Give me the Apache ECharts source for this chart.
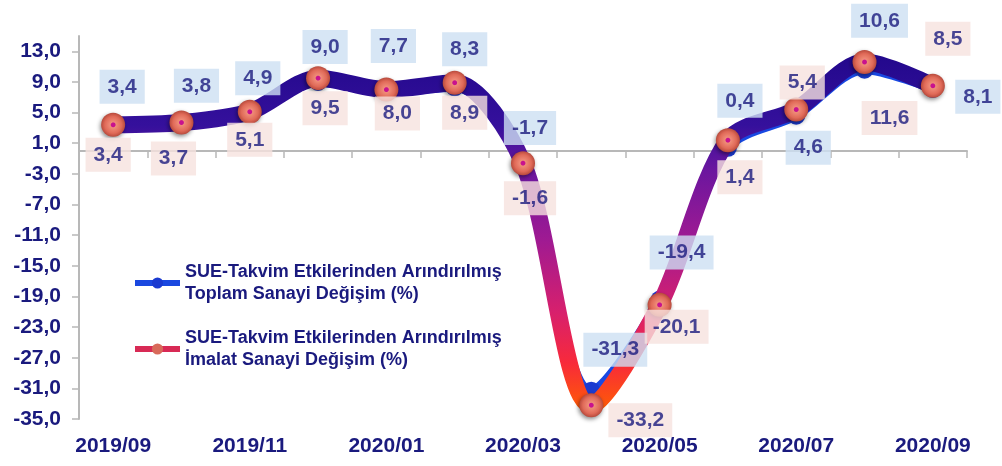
<!DOCTYPE html>
<html><head><meta charset="utf-8">
<script src="https://cdn.jsdelivr.net/npm/echarts@6/dist/echarts.min.js"></script>
<style>html,body{margin:0;padding:0;background:#fff}#c{width:1002px;height:466px}</style>
</head><body><div id="c"></div>
<script>
var categories = ['2019/09','2019/10','2019/11','2019/12','2020/01','2020/02','2020/03','2020/04','2020/05','2020/06','2020/07','2020/08','2020/09'];
var toplam = [3.4, 3.8, 4.9, 9.0, 7.7, 8.3, -1.7, -31.3, -19.4, 0.4, 4.6, 10.6, 8.1];
var imalat = [3.4, 3.7, 5.1, 9.5, 8.0, 8.9, -1.6, -33.2, -20.1, 1.4, 5.4, 11.6, 8.5];
var yTicks = [-35, -31, -27, -23, -19, -15, -11, -7, -3, 1, 5, 9, 13];
var seriesNames = ['SUE-Takvim Etkilerinden Arındırılmış\nToplam Sanayi Değişim (%)', 'SUE-Takvim Etkilerinden Arındırılmış\nİmalat Sanayi Değişim (%)'];

// label placement (layout only)
var toplamLabelOffset = [[9,-38],[15,-36],[8,-35],[7,-35],[7,-46],[10,-38],[7,-36],[24,-41],[22,-47],[12,-47],[12,32],[15,-49],[45,8]];
var imalatLabelOffset = [[-5,30],[-8,36],[0,28],[7,30],[11,24],[10,30],[7,35],[49,15],[17,22],[12,37],[6,-27],[25,56],[15,-47]];

var NAVY = '#1a1a7e';
var FONT = 'Liberation Sans, Arial, sans-serif';
function fmt(v){ return v.toFixed(1).replace('.', ','); }
function mkLabelData(vals, offs, bg){
  return vals.map(function(v,i){
    return {value: v, label: {offset: offs[i], backgroundColor: bg}};
  });
}
var labelBase = {show:true, position:'inside', color:NAVY, fontFamily:FONT, fontWeight:'bold', fontSize:21, padding:[7,8,6,8], formatter:function(p){return fmt(p.value);}};

var chart = echarts.init(document.getElementById('c'), null, {renderer:'canvas'});
chart.setOption({
  animation:false,
  backgroundColor:'#fff',
  grid:{left:79, right:35, top:36, bottom:47},
  legend:{
    orient:'vertical', left:127, top:245, itemGap:0, itemWidth:45, itemHeight:14,
    textStyle:{color:NAVY, fontFamily:FONT, fontWeight:'bold', fontSize:18, lineHeight:22, padding:[22,0,0,0]},
    data:[
      {name:seriesNames[0], lineStyle:{width:6, color:'#1a48e0'}, itemStyle:{color:'#1a3ad0'}},
      {name:seriesNames[1], lineStyle:{width:6, color:'#d82a55'}, itemStyle:{color:'#d86a5a'}}
    ]
  },
  xAxis:[
    {type:'category', data:categories, boundaryGap:true, position:'bottom',
     axisLine:{onZero:true, lineStyle:{color:'#b8b8b8', width:2}},
     axisTick:{show:true, interval:0, length:7, lineStyle:{color:'#b8b8b8', width:1.5}},
     axisLabel:{show:false}},
    {type:'category', data:categories, boundaryGap:true, position:'bottom',
     axisLine:{show:false}, axisTick:{show:false},
     axisLabel:{show:true, interval:1, margin:17, color:NAVY, fontFamily:FONT, fontWeight:'bold', fontSize:21}}
  ],
  yAxis:{
    type:'value', min:-35, max:15, interval:4,
    splitLine:{show:false},
    axisLine:{show:true, lineStyle:{color:'#b8b8b8', width:2}},
    axisTick:{show:true, length:7, customValues:yTicks, lineStyle:{color:'#b8b8b8', width:1.5}},
    axisLabel:{show:true, customValues:yTicks, margin:18, color:NAVY, fontFamily:FONT, fontWeight:'bold', fontSize:21, formatter:function(v){return fmt(v);}}
  },
  series:[
    {name:seriesNames[0], type:'line', xAxisIndex:0, smooth:0.3, z:2,
     data:toplam,
     lineStyle:{color:'#1848e2', width:9},
     symbol:'circle', symbolSize:18,
     itemStyle:{color:'#1a3ad0'},
     label:{show:false}},
    {name:seriesNames[1], type:'line', xAxisIndex:0, smooth:0.3, z:3,
     data:imalat,
     lineStyle:{width:17, color:new echarts.graphic.LinearGradient(0,0,0,1,[
        {offset:0, color:'#22088c'},
        {offset:0.2, color:'#35109c'},
        {offset:0.32, color:'#6a169f'},
        {offset:0.52, color:'#a01a92'},
        {offset:0.72, color:'#d8206c'},
        {offset:0.86, color:'#f82a3a'},
        {offset:1, color:'#ff6000'}
     ])},
     symbol:'circle', symbolSize:24,
     itemStyle:{color:new echarts.graphic.RadialGradient(0.5,0.5,0.5,[
        {offset:0, color:'#c8128e'},
        {offset:0.16, color:'#c8128e'},
        {offset:0.24, color:'#ef8c78'},
        {offset:0.7, color:'#e06a58'},
        {offset:1, color:'#b84a3c'}
     ]), shadowBlur:4, shadowColor:'rgba(0,0,0,0.45)', shadowOffsetY:2, shadowOffsetX:-1},
     label:{show:false}},
    {name:'toplamLabels', type:'scatter', xAxisIndex:0, z:10, silent:true,
     symbolSize:1, itemStyle:{color:'transparent'},
     data:mkLabelData(toplam, toplamLabelOffset, '#cde0f2'), label:labelBase},
    {name:'imalatLabels', type:'scatter', xAxisIndex:0, z:10, silent:true,
     symbolSize:1, itemStyle:{color:'transparent'},
     data:mkLabelData(imalat, imalatLabelOffset, '#f6e2df'), label:labelBase}
  ]
});
</script></body></html>
